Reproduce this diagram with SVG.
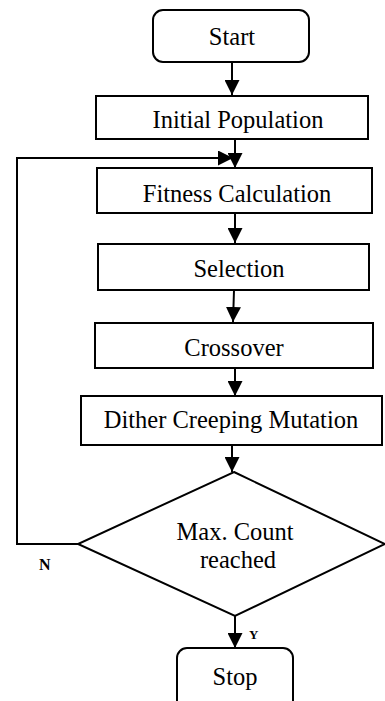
<svg xmlns="http://www.w3.org/2000/svg" width="385" height="701" viewBox="0 0 385 701">
<style>
.box{fill:#fff;stroke:#000;stroke-width:2}
.t{font-size:24.5px;fill:#000;text-anchor:middle}
.lbl{font-weight:bold;fill:#000}
.c{fill:none;stroke:#000;stroke-width:2}
</style>
<defs>
<marker id="ah" markerUnits="userSpaceOnUse" markerWidth="15" markerHeight="15" refX="15" refY="7.5" orient="auto">
<path d="M0,0 L15,7.5 L0,15 z" fill="#000"/>
</marker>
</defs>
<rect width="385" height="701" fill="#fff"/>
<g id="connectors">
<line class="c" x1="232" y1="62" x2="232" y2="95" marker-end="url(#ah)"/>
<line class="c" x1="235" y1="139" x2="235" y2="168" marker-end="url(#ah)"/>
<polyline class="c" points="78,544 17,544 17,158 233,158" marker-end="url(#ah)"/>
<line class="c" x1="235" y1="213" x2="235" y2="243" marker-end="url(#ah)"/>
<line class="c" x1="234" y1="290" x2="233" y2="322" marker-end="url(#ah)"/>
<line class="c" x1="235" y1="368" x2="235" y2="396" marker-end="url(#ah)"/>
<line class="c" x1="232" y1="445" x2="232" y2="472" marker-end="url(#ah)"/>
<line class="c" x1="235" y1="616" x2="235" y2="648" marker-end="url(#ah)"/>
<text class="lbl" font-family="Liberation Serif, DejaVu Serif, serif" x="39" y="570" font-size="16">N</text>
<text class="lbl" font-family="Liberation Serif, DejaVu Serif, serif" x="249" y="639" font-size="13">Y</text>
</g>
<g id="start" font-family="Liberation Serif, DejaVu Serif, serif">
<rect class="box" x="153" y="10" width="156" height="52" rx="10"/>
<text class="t" x="232" y="45">Start</text>
</g>
<g id="init" font-family="Liberation Serif, DejaVu Serif, serif">
<rect class="box" x="96" y="96" width="272" height="43"/>
<text class="t" x="238" y="128">Initial Population</text>
</g>
<g id="fitness" font-family="Liberation Serif, DejaVu Serif, serif">
<rect class="box" x="97" y="168" width="275" height="45"/>
<text class="t" x="237" y="202">Fitness Calculation</text>
</g>
<g id="selection" font-family="Liberation Serif, DejaVu Serif, serif">
<rect class="box" x="98" y="244" width="271" height="46"/>
<text class="t" x="239" y="277">Selection</text>
</g>
<g id="crossover" font-family="Liberation Serif, DejaVu Serif, serif">
<rect class="box" x="95" y="323" width="278" height="45"/>
<text class="t" x="234" y="356">Crossover</text>
</g>
<g id="mutation" font-family="Liberation Serif, DejaVu Serif, serif">
<rect class="box" x="81" y="396" width="301" height="49"/>
<text class="t" x="231" y="428">Dither Creeping Mutation</text>
</g>
<g id="decision" font-family="Liberation Serif, DejaVu Serif, serif">
<polygon class="box" points="234,472 385,544 235,616 78,544"/>
<text class="t" x="235" y="540">Max. Count</text>
<text class="t" x="238" y="568">reached</text>
</g>
<g id="stop" font-family="Liberation Serif, DejaVu Serif, serif">
<rect class="box" x="177" y="648" width="116" height="62" rx="10"/>
<text class="t" x="235" y="685">Stop</text>
</g>
</svg>
